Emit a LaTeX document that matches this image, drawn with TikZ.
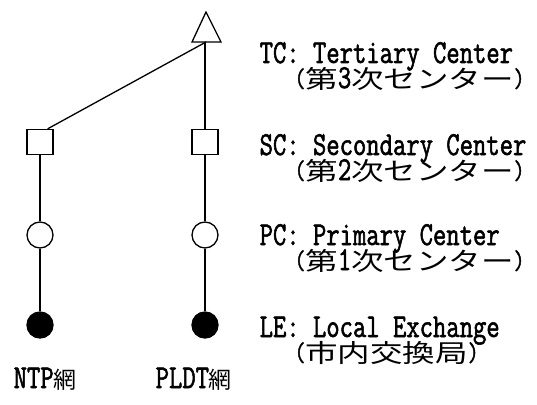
\documentclass[tikz,border=0pt]{standalone}
\usepackage{fontspec}
\newfontfamily\latfam[FakeStretch=0.773,FakeBold=1.6]{Latin Modern Mono}
\newfontfamily\cjfam[FakeStretch=1.3]{Noto Sans CJK JP}
\newfontfamily\cjnfam{Noto Sans CJK JP}
\newcommand\latf{\fontsize{33.5}{25}\selectfont\latfam}
\newcommand\parf{\fontsize{27}{25}\selectfont\latfam}
\newcommand\cjf{\fontsize{25}{25}\selectfont\cjfam}
\newcommand\cjn{\fontsize{23}{23}\selectfont\cjnfam}
\newcommand\jline[3]{\raisebox{1pt}{\parf(}{\cjf #1}{\latf #2}{\cjf #3}\raisebox{1pt}{\parf)}}
\newcommand\twol[2]{\vbox{\baselineskip=25pt\lineskiplimit=-100pt\lineskip=0pt
  \hbox{\latf #1}\hbox{\kern35pt #2}}}
\begin{document}
\begin{tikzpicture}[x=1pt,y=-1pt,line width=1.3pt,
  sq/.style={draw,rectangle,minimum width=26pt,minimum height=25pt,inner sep=0pt},
  pc/.style={draw,circle,minimum size=26pt,inner sep=0pt},
  le/.style={draw,circle,fill=black,minimum size=26pt,inner sep=0pt},
  lbl/.style={anchor=base west,inner sep=0pt},
  net/.style={anchor=base west,inner sep=0pt}]
\useasboundingbox (0,0) rectangle (537,404);
% tertiary center triangle
\draw (206,12) -- (221,42) -- (192,42) -- cycle;
\coordinate (tc) at (206,42);
% nodes
\node[sq] (s1) at (40,142) {};
\node[sq] (s2) at (205,142) {};
\node[pc] (c1) at (40,235) {};
\node[pc] (c2) at (205,235) {};
\node[le] (f1) at (40,325) {};
\node[le] (f2) at (205,325) {};
% connectors
\draw (s1.60) -- (tc);
\draw (tc -| s2) -- (s2);
\draw (s1) -- (c1);
\draw (s2) -- (c2);
\draw (c1) -- (f1);
\draw (c2) -- (f2);
% labels (anchored at the baseline of the second line)
\node[lbl] (tcl) at (259,88) {\twol{TC: Tertiary Center}{\jline{第}{3}{次センター}}};
\node[lbl] (scl) at (259,180) {\twol{SC: Secondary Center}{\jline{第}{2}{次センター}}};
\node[lbl] (pcl) at (259,270) {\twol{PC: Primary Center}{\jline{第}{1}{次センター}}};
\node[lbl] (lel) at (259,362) {\twol{LE: Local Exchange}{\jline{}{}{市内交換局}}};
\node[net] (ntp) at (13,388) {\latf NTP\cjn 網};
\node[net] (pldt) at (155,388) {\latf PLDT\cjn 網};
\end{tikzpicture}
\end{document}
